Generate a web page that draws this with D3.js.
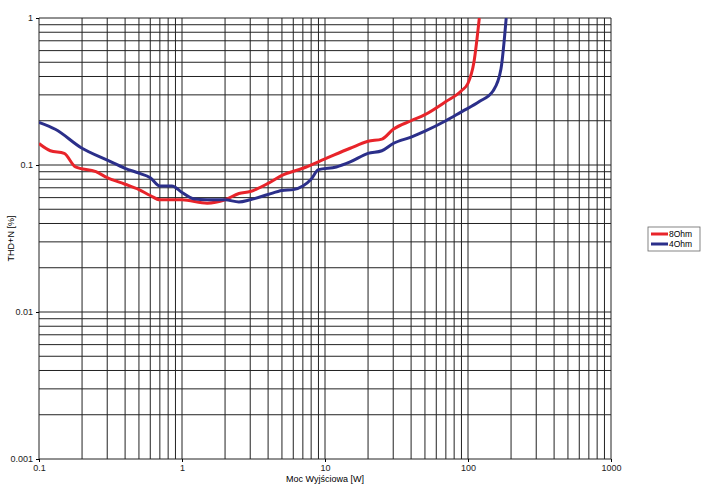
<!DOCTYPE html><html><head><script src="https://cdn.jsdelivr.net/npm/d3@7"></script>
<style>body{margin:0;background:#fff}text{font-family:"Liberation Sans",Arial,sans-serif}</style></head><body>
<svg id="c" width="705" height="486"></svg>
<script>
const seriesNames=["8Ohm","4Ohm"];
const colors=["#e8242a","#2b2f8a"];
const redX=[0.1,0.12,0.15,0.18,0.25,0.3,0.4,0.5,0.6,0.7,1,1.5,2,2.5,3,4,5,7,10,15,20,25,30,40,50,70,90,100,110,120];
const redY=[0.14,0.125,0.12,0.097,0.09,0.082,0.074,0.068,0.062,0.058,0.058,0.055,0.058,0.064,0.066,0.075,0.085,0.095,0.11,0.13,0.145,0.15,0.175,0.2,0.22,0.27,0.32,0.36,0.5,1];
const blueX=[0.1,0.13,0.2,0.3,0.4,0.5,0.6,0.7,0.85,1,1.2,1.5,2,2.5,3,4,5,6,7,8,9,12,15,20,25,30,40,50,70,90,120,150,170,185];
const blueY=[0.195,0.175,0.13,0.108,0.095,0.088,0.082,0.072,0.072,0.065,0.059,0.058,0.058,0.056,0.058,0.063,0.067,0.068,0.072,0.08,0.093,0.097,0.105,0.12,0.125,0.14,0.155,0.17,0.2,0.23,0.27,0.32,0.45,1];
const xTicks=[0.1,1,10,100,1000], yTicks=[0.001,0.01,0.1,1];
const svg=d3.select("#c");
const L=39,R=611,T=18,B=459;
const x=d3.scaleLog().domain([0.1,1000]).range([L,R]);
const y=d3.scaleLog().domain([0.001,1]).range([B,T]);
const g=svg.append("g");
const minor=[];for(let d=-1;d<3;d++)for(let k=1;k<10;k++)minor.push(k*10**d);minor.push(1000);
g.selectAll(".vx").data(minor).join("line").attr("x1",d=>x(d)).attr("x2",d=>x(d)).attr("y1",T).attr("y2",B).attr("stroke","#222").attr("stroke-width",1);
const minY=[];for(let d=-3;d<0;d++)for(let k=1;k<10;k++)minY.push(k*10**d);minY.push(1);
g.selectAll(".hy").data(minY).join("line").attr("y1",d=>y(d)).attr("y2",d=>y(d)).attr("x1",L).attr("x2",R).attr("stroke","#222").attr("stroke-width",1);
svg.append("g").attr("transform",`translate(0,${B})`).call(d3.axisBottom(x).tickValues(xTicks).tickFormat(d=>String(d)).tickSize(3)).call(a=>{a.select(".domain").remove();a.selectAll("text").attr("font-size",9).attr("fill","#222");});
svg.append("g").attr("transform",`translate(${L},0)`).call(d3.axisLeft(y).tickValues(yTicks).tickFormat(d=>String(d)).tickSize(3)).call(a=>{a.select(".domain").remove();a.selectAll("text").attr("font-size",9).attr("fill","#222");});
svg.append("text").attr("x",(L+R)/2).attr("y",482).attr("text-anchor","middle").attr("font-size",9).text("Moc Wyjściowa [W]");
svg.append("text").attr("transform",`translate(14,${(T+B)/2}) rotate(-90)`).attr("text-anchor","middle").attr("font-size",9).text("THD+N [%]");
const line=d3.line().x(d=>x(d[0])).y(d=>y(d[1])).curve(d3.curveMonotoneX);
const data=[redX.map((v,i)=>[v,redY[i]]),blueX.map((v,i)=>[v,blueY[i]])];
const clip=svg.append("clipPath").attr("id","cp").append("rect").attr("x",L).attr("y",T).attr("width",R-L).attr("height",B-T);
data.forEach((d,i)=>svg.append("path").attr("d",line(d)).attr("fill","none").attr("stroke",colors[i]).attr("stroke-width",3).attr("clip-path","url(#cp)"));
const lg=svg.append("g").attr("transform","translate(648,227)");
lg.append("rect").attr("width",52).attr("height",24).attr("fill","#fff").attr("stroke","#666").attr("stroke-width",0.8);
seriesNames.forEach((n,i)=>{lg.append("line").attr("x1",3).attr("x2",20).attr("y1",7+i*10).attr("y2",7+i*10).attr("stroke",colors[i]).attr("stroke-width",3);
lg.append("text").attr("x",21).attr("y",10+i*10).attr("font-size",8.5).text(n);});
</script></body></html>
